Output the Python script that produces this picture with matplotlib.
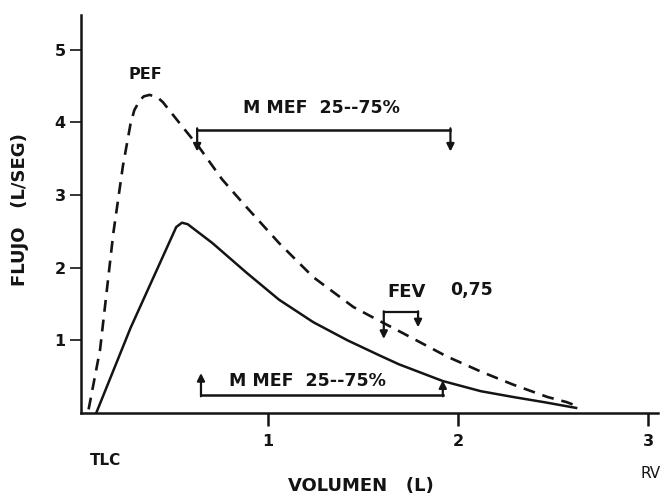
#Curva flujo-volumen (normal vs obstructiva)
import numpy as np
import matplotlib.pyplot as plt

plt.rcParams['font.family'] = ['DejaVu Sans']
plt.rcParams['font.weight'] = 'bold'

#Curva normal (linea discontinua)
vol_normal = [0.06, 0.12, 0.19, 0.24, 0.28, 0.30, 0.33, 0.35, 0.38, 0.42, 0.45, 0.55, 0.64, 0.76, 0.87, 1.06, 1.24, 1.45,
              1.55, 1.71, 1.94, 2.12, 2.29, 2.47, 2.57, 2.64]
flujo_normal = [0.05, 0.87, 2.48, 3.40, 3.98, 4.17, 4.31, 4.36, 4.38, 4.35, 4.28, 3.95, 3.66, 3.22, 2.89, 2.34, 1.87, 1.46,
                1.32, 1.10, 0.78, 0.57, 0.39, 0.22, 0.15, 0.08]

#Curva obstructiva (linea continua)
vol_obstr = [0.10, 0.28, 0.52, 0.55, 0.58, 0.605, 0.71, 0.89, 1.06, 1.24, 1.42, 1.59, 1.69, 1.92, 2.12, 2.29, 2.45, 2.62]
flujo_obstr = [0.00, 1.17, 2.56, 2.62, 2.60, 2.55, 2.34, 1.93, 1.56, 1.25, 1.00, 0.79, 0.67, 0.44, 0.30, 0.22, 0.15, 0.07]

yticks = [1, 2, 3, 4, 5]
xticks = [1, 2, 3]

fig = plt.figure(figsize=(6.68, 4.96), dpi=100)
ax = fig.add_axes([81/668, 83/496, 577/668, 398/496])

ink = '#141414'
ax.plot(vol_normal, flujo_normal, color=ink, lw=1.9, dashes=(4.5, 3))
ax.plot(vol_obstr, flujo_obstr, color=ink, lw=1.8)

ax.set_xlim(0.02, 3.05)
ax.set_ylim(0, 5.48)

for s in ['top', 'right']:
    ax.spines[s].set_visible(False)
for s in ['left', 'bottom']:
    ax.spines[s].set_linewidth(1.8)
    ax.spines[s].set_color(ink)

ax.set_yticks(yticks)
ax.set_yticklabels([str(t) for t in yticks], fontsize=11.5, fontweight='bold')
ax.set_xticks(xticks)
ax.set_xticklabels([str(t) for t in xticks], fontsize=11.5, fontweight='bold')
ax.tick_params(axis='y', direction='out', length=8, width=1.2, pad=3, colors=ink)
ax.tick_params(axis='x', direction='out', length=9, width=1.8, pad=6, colors=ink)

ax.set_ylabel('FLUJO   (L/SEG)', fontsize=13, fontweight='bold', color=ink)
ax.yaxis.set_label_coords(-0.09, 0.51)
fig.text(361/668, 1 - 486/496, 'VOLUMEN   (L)', fontsize=13, fontweight='bold', ha='center', va='center', color=ink)

ax.text(0.15, -0.65, 'TLC', fontsize=11, fontweight='bold', ha='center', va='center', color=ink)
ax.text(3.01, -0.83, 'RV', fontsize=11, fontweight='normal', ha='center', va='center', color=ink)
ax.text(0.36, 4.66, 'PEF', fontsize=11.5, fontweight='bold', ha='center', va='center', color=ink)

arrow = dict(arrowstyle='-|>', color=ink, lw=1.6, mutation_scale=11, shrinkA=0, shrinkB=0)

#MMEF normal (arriba)
ax.plot([0.63, 1.96], [3.9, 3.9], color=ink, lw=1.8)
ax.annotate('', xy=(0.63, 3.6), xytext=(0.63, 3.92), arrowprops=arrow)
ax.annotate('', xy=(1.96, 3.6), xytext=(1.96, 3.92), arrowprops=arrow)
ax.text(1.28, 4.2, 'M MEF  25--75%', fontsize=12.5, fontweight='bold', ha='center', va='center', color=ink)

#MMEF obstructiva (abajo)
ax.plot([0.65, 1.92], [0.25, 0.25], color=ink, lw=1.8)
ax.annotate('', xy=(0.65, 0.55), xytext=(0.65, 0.23), arrowprops=arrow)
ax.annotate('', xy=(1.92, 0.45), xytext=(1.92, 0.23), arrowprops=arrow)
ax.text(1.21, 0.44, 'M MEF  25--75%', fontsize=12.5, fontweight='bold', ha='center', va='center', color=ink)

#FEV 0,75
ax.plot([1.61, 1.79], [1.39, 1.39], color=ink, lw=1.6)
ax.annotate('', xy=(1.61, 1.02), xytext=(1.61, 1.40), arrowprops=arrow)
ax.annotate('', xy=(1.79, 1.18), xytext=(1.79, 1.40), arrowprops=arrow)
ax.text(1.73, 1.67, 'FEV', fontsize=13, fontweight='bold', ha='center', va='center', color=ink)
ax.text(2.07, 1.69, '0,75', fontsize=12.5, fontweight='bold', ha='center', va='center', color=ink)

plt.savefig('out.png', dpi=100)
